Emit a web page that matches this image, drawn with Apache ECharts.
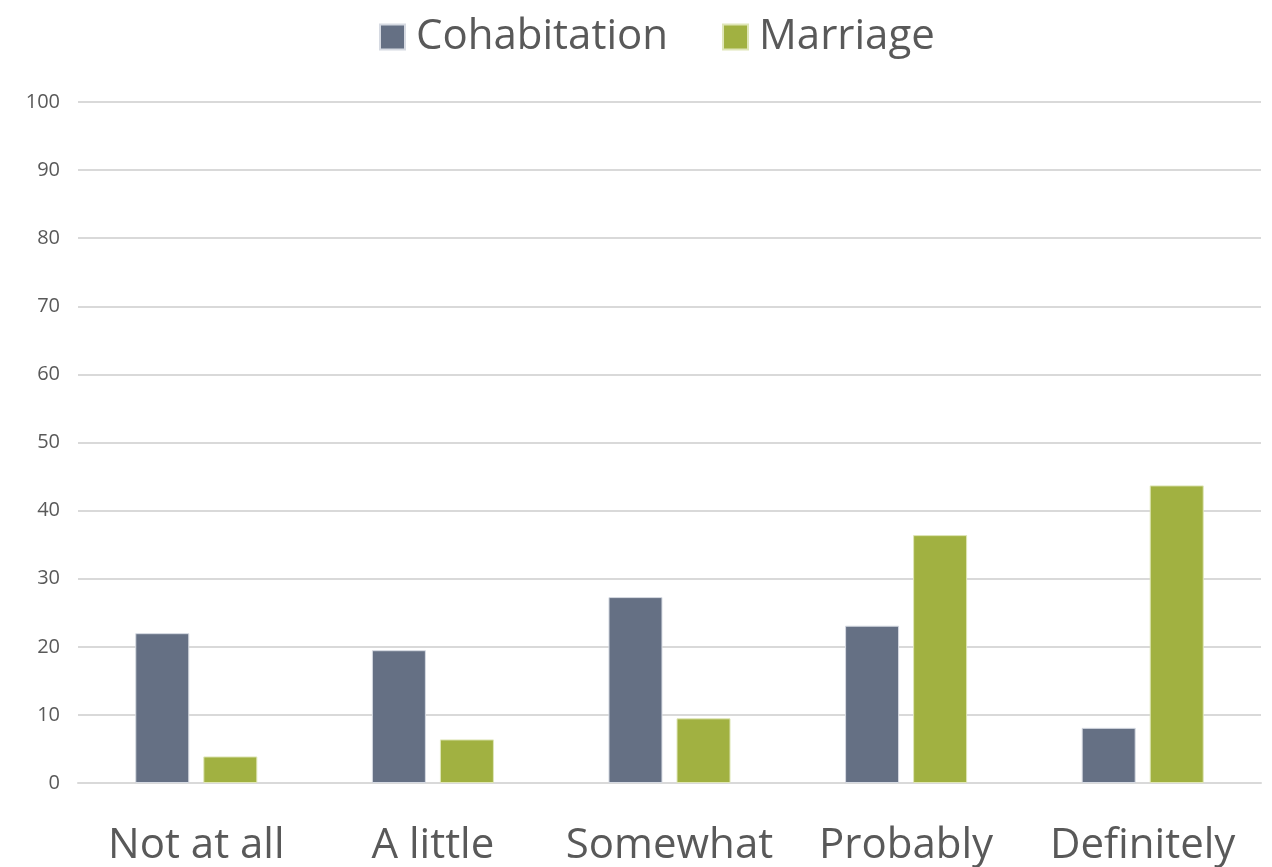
<!DOCTYPE html>
<html>
<head>
<meta charset="utf-8">
<script src="https://cdn.jsdelivr.net/npm/echarts@6/dist/echarts.min.js"></script>
<style>
  html, body { margin: 0; padding: 0; background: #fff; }
  #chart { width: 1272px; height: 867px; }
</style>
</head>
<body>
<div id="chart"></div>
<script>
// Survey answers, percent of respondents
const categories = ['Not at all', 'A little', 'Somewhat', 'Probably', 'Definitely'];
const cohabitation = [22.0, 19.5, 27.3, 23.1, 8.1];
const marriage = [3.9, 6.4, 9.5, 36.4, 43.7];
const yTicks = [0, 10, 20, 30, 40, 50, 60, 70, 80, 90, 100];

const FONT = '"Open Sans", "Liberation Sans", sans-serif';
const TEXT = '#595959';

const chart = echarts.init(document.getElementById('chart'));
chart.setOption({
  backgroundColor: '#ffffff',
  animation: false,
  legend: {
    top: 11,
    left: 374,
    itemWidth: 25,
    itemHeight: 25,
    itemGap: 54,
    icon: 'rect',
    textStyle: { fontFamily: FONT, fontSize: 42, color: TEXT, padding: [0, 0, 0, 6] },
    data: ['Cohabitation', 'Marriage']
  },
  grid: { left: 78, right: 11, top: 102, bottom: 83, containLabel: false },
  xAxis: {
    type: 'category',
    data: categories,
    axisLine: { show: true, lineStyle: { color: '#d9d9d9', width: 2 } },
    axisTick: { show: false },
    axisLabel: { interval: 0, fontFamily: FONT, fontSize: 42, color: TEXT, margin: 42 }
  },
  yAxis: {
    type: 'value',
    min: yTicks[0],
    max: yTicks[yTicks.length - 1],
    interval: 10,
    axisLine: { show: false },
    axisTick: { show: false },
    axisLabel: { fontFamily: FONT, fontSize: 20, color: TEXT, margin: 18 },
    splitLine: { lineStyle: { color: '#d9d9d9', width: 2 } }
  },
  series: [
    {
      name: 'Cohabitation',
      type: 'bar',
      data: cohabitation,
      barWidth: 54,
      barGap: '26%',
      itemStyle: { color: '#657084', borderColor: '#d6dae2', borderWidth: 1 }
    },
    {
      name: 'Marriage',
      type: 'bar',
      data: marriage,
      barWidth: 54,
      itemStyle: { color: '#a1b141', borderColor: '#dfe6b8', borderWidth: 1 }
    }
  ]
});
</script>
</body>
</html>
